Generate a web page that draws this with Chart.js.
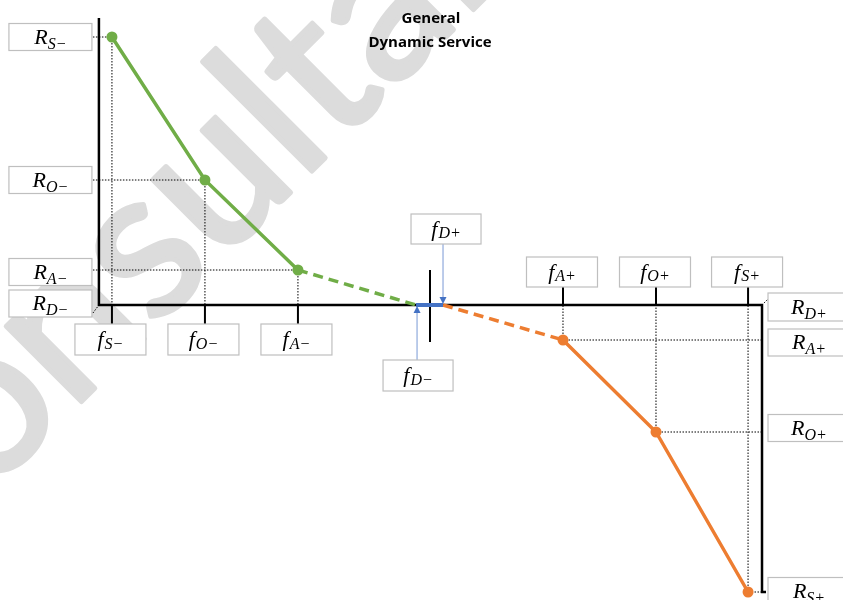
<!DOCTYPE html>
<html>
<head>
<meta charset="utf-8">
<script src="https://cdn.jsdelivr.net/npm/chart.js@4.4.1/dist/chart.umd.min.js"></script>
<style>
  html, body { margin: 0; padding: 0; background: #fff; }
  #wrap { width: 843px; height: 600px; }
</style>
</head>
<body>
<div id="wrap"><canvas id="chart" width="843" height="600"></canvas></div>
<script>
// droop characteristic: frequency deviation (x) vs response (y)
const F_NEG = [-3.42, -2.42, -1.42];
const R_NEG = [2.68, 1.25, 0.35];
const F_POS = [1.43, 2.43, 3.42];
const R_POS = [-0.35, -1.27, -2.87];
const F_DEAD = [-0.15, 0.14];          // deadband edges f_D-, f_D+

const LABELS_NEG = ['S−', 'O−', 'A−'];
const LABELS_POS = ['A+', 'O+', 'S+'];

const X_AXIS = [-3.56, 3.57];          // left / right axis positions
const Y_AXIS = [2.87, -2.87];          // top of left axis / bottom of right axis

const TITLE = ['General', 'Dynamic Service'];
const WATERMARK = 'Consultants';

const GREEN  = '#70ad47';
const ORANGE = '#ed7d31';
const BLUE   = '#4472c4';
const LIGHT_BLUE = '#8faadc';

const pts = (xs, ys) => xs.map((v, i) => ({ x: v, y: ys[i] }));

function line(ctx, x1, y1, x2, y2) {
  ctx.beginPath();
  ctx.moveTo(x1, y1);
  ctx.lineTo(x2, y2);
  ctx.stroke();
}

function labelBox(ctx, cx, cy, w, h, main, sub, kind) {
  ctx.save();
  ctx.fillStyle = '#fff';
  ctx.strokeStyle = '#bfbfbf';
  ctx.lineWidth = 1.2;
  ctx.fillRect(cx - w / 2, cy - h / 2, w, h);
  ctx.strokeRect(cx - w / 2, cy - h / 2, w, h);

  const mainFont = 'italic 22px "Liberation Serif"';
  const subFont  = 'italic 16px "Liberation Serif"';
  ctx.font = mainFont;
  const wm = ctx.measureText(main).width;
  ctx.font = subFont;
  const ws = ctx.measureText(sub).width;
  const gap = kind === 'R' ? 0 : 1;
  const x0 = cx - (wm + gap + ws) / 2;
  const mainBase = cy + 6.5;
  const subBase  = kind === 'R' ? cy + 11.5 : cy + 9;

  ctx.fillStyle = '#000';
  ctx.textBaseline = 'alphabetic';
  ctx.textAlign = 'left';
  ctx.font = mainFont;
  ctx.fillText(main, x0, mainBase);
  ctx.font = subFont;
  ctx.fillText(sub, x0 + wm + gap, subBase);
  ctx.restore();
}

function arrow(ctx, x, yFrom, yTo) {
  const dir = yTo > yFrom ? 1 : -1;
  ctx.save();
  ctx.strokeStyle = LIGHT_BLUE;
  ctx.lineWidth = 1.2;
  line(ctx, x, yFrom, x, yTo - dir * 6);
  ctx.fillStyle = BLUE;
  ctx.beginPath();
  ctx.moveTo(x, yTo);
  ctx.lineTo(x - 3.5, yTo - dir * 7);
  ctx.lineTo(x + 3.5, yTo - dir * 7);
  ctx.closePath();
  ctx.fill();
  ctx.restore();
}

const diagram = {
  id: 'diagram',
  beforeDatasetsDraw(chart) {
    const { ctx, scales: { x, y } } = chart;
    const px = v => x.getPixelForValue(v);
    const py = v => y.getPixelForValue(v);

    // watermark
    ctx.save();
    ctx.font = '210px Lato';
    ctx.fillStyle = '#dcdcdc';
    ctx.strokeStyle = '#dcdcdc';
    ctx.lineWidth = 5;
    ctx.lineJoin = 'round';
    const wCon = ctx.measureText('Con').width;
    const wS = ctx.measureText('s').width;
    ctx.translate(186, 297);
    ctx.rotate(-Math.PI / 4);
    ctx.fillText(WATERMARK, -(wCon + wS / 2), 0);
    ctx.strokeText(WATERMARK, -(wCon + wS / 2), 0);
    ctx.restore();

    // dotted guides
    ctx.save();
    ctx.strokeStyle = '#000';
    ctx.lineWidth = 1;
    ctx.setLineDash([1.5, 1.5]);
    F_NEG.forEach((f, i) => {
      line(ctx, px(X_AXIS[0]) - 6, py(R_NEG[i]), px(f), py(R_NEG[i]));
      line(ctx, px(f), py(R_NEG[i]), px(f), py(0));
    });
    F_POS.forEach((f, i) => {
      line(ctx, px(X_AXIS[1]), py(R_POS[i]), px(f), py(R_POS[i]));
      line(ctx, px(f), py(R_POS[i]), px(f), py(0));
    });
    line(ctx, px(X_AXIS[0]) - 6, py(0) + 8, px(X_AXIS[0]), py(0));
    line(ctx, px(X_AXIS[1]), py(0), px(X_AXIS[1]) + 6, py(0) - 6);
    ctx.restore();

    // axes
    ctx.save();
    ctx.strokeStyle = '#000';
    ctx.lineWidth = 2.5;
    ctx.beginPath();
    ctx.moveTo(px(X_AXIS[0]), py(Y_AXIS[0]));
    ctx.lineTo(px(X_AXIS[0]), py(0));
    ctx.lineTo(px(X_AXIS[1]), py(0));
    ctx.lineTo(px(X_AXIS[1]), py(Y_AXIS[1]));
    ctx.lineTo(px(X_AXIS[1]) + 4, py(Y_AXIS[1]));
    ctx.stroke();

    // ticks
    ctx.lineWidth = 2;
    F_NEG.forEach(f => line(ctx, px(f), py(0), px(f), py(0) + 19));
    F_POS.forEach(f => line(ctx, px(f), py(0), px(f), py(0) - 18));
    line(ctx, px(0), py(0) - 35, px(0), py(0) + 37);
    ctx.restore();
  },
  afterDatasetsDraw(chart) {
    const { ctx, scales: { x, y } } = chart;
    const px = v => x.getPixelForValue(v);
    const py = v => y.getPixelForValue(v);
    const y0 = py(0);

    // deadband arrows
    arrow(ctx, px(F_DEAD[1]), 244, y0 - 1);
    arrow(ctx, px(F_DEAD[0]) + 1, 360, y0 + 1);

    // R boxes (left)
    const lx = px(X_AXIS[0]) - 48.5;
    R_NEG.forEach((r, i) => {
      const nudge = i === 2 ? 2 : 0;
      labelBox(ctx, lx, py(r) + nudge, 83, 27, 'R', LABELS_NEG[i], 'R');
    });
    labelBox(ctx, lx, y0 - 1.5, 83, 27, 'R', 'D−', 'R');

    // R boxes (right)
    const rx = px(X_AXIS[1]) + 47;
    labelBox(ctx, rx, y0 + 2, 82, 28, 'R', 'D+', 'R');
    R_POS.forEach((r, i) => {
      const nudge = [2.5, -4, -1][i];
      labelBox(ctx, rx, py(r) + nudge, 82, 27, 'R', LABELS_POS[i], 'R');
    });

    // f boxes
    F_NEG.forEach((f, i) => labelBox(ctx, px(f) - 1.5, y0 + 34.5, 71, 31, 'f', LABELS_NEG[i], 'f'));
    F_POS.forEach((f, i) => labelBox(ctx, px(f) - 1, y0 - 33, 71, 30, 'f', LABELS_POS[i], 'f'));
    labelBox(ctx, px(F_DEAD[1]) + 3, 229, 70, 30, 'f', 'D+', 'f');
    labelBox(ctx, px(F_DEAD[0]) + 2, 375.5, 70, 31, 'f', 'D−', 'f');

    // title
    ctx.save();
    ctx.fillStyle = '#000';
    ctx.font = 'bold 15px "Open Sans"';
    ctx.textAlign = 'center';
    ctx.textBaseline = 'alphabetic';
    ctx.fillText(TITLE[0], 431, 23);
    ctx.fillText(TITLE[1], 430, 47);
    ctx.restore();
  }
};

new Chart(document.getElementById('chart'), {
  type: 'scatter',
  data: {
    datasets: [
      {
        data: pts(F_NEG, R_NEG),
        showLine: true,
        borderColor: GREEN,
        backgroundColor: GREEN,
        borderWidth: 3.5,
        pointRadius: 5.5,
        pointBorderWidth: 0,
      },
      {
        data: [{ x: F_NEG[2], y: R_NEG[2] }, { x: F_DEAD[0], y: 0 }],
        showLine: true,
        borderColor: GREEN,
        borderWidth: 3.5,
        borderDash: [10, 6],
        pointRadius: 0,
      },
      {
        data: [{ x: F_DEAD[0], y: 0 }, { x: F_DEAD[1], y: 0 }],
        showLine: true,
        borderColor: BLUE,
        borderWidth: 4,
        pointRadius: 0,
      },
      {
        data: [{ x: F_DEAD[1], y: 0 }, { x: F_POS[0], y: R_POS[0] }],
        showLine: true,
        borderColor: ORANGE,
        borderWidth: 3.5,
        borderDash: [10, 6],
        pointRadius: 0,
      },
      {
        data: pts(F_POS, R_POS),
        showLine: true,
        borderColor: ORANGE,
        backgroundColor: ORANGE,
        borderWidth: 3.5,
        pointRadius: 5.5,
        pointBorderWidth: 0,
      },
    ],
  },
  options: {
    responsive: false,
    animation: false,
    events: [],
    layout: { padding: 0, autoPadding: false },
    plugins: { legend: { display: false }, tooltip: { enabled: false } },
    scales: {
      x: { type: 'linear', display: false, min: -430 / 93, max: 413 / 93 },
      y: { type: 'linear', display: false, min: -2.95, max: 3.05 },
    },
  },
  plugins: [diagram],
});
</script>
</body>
</html>
